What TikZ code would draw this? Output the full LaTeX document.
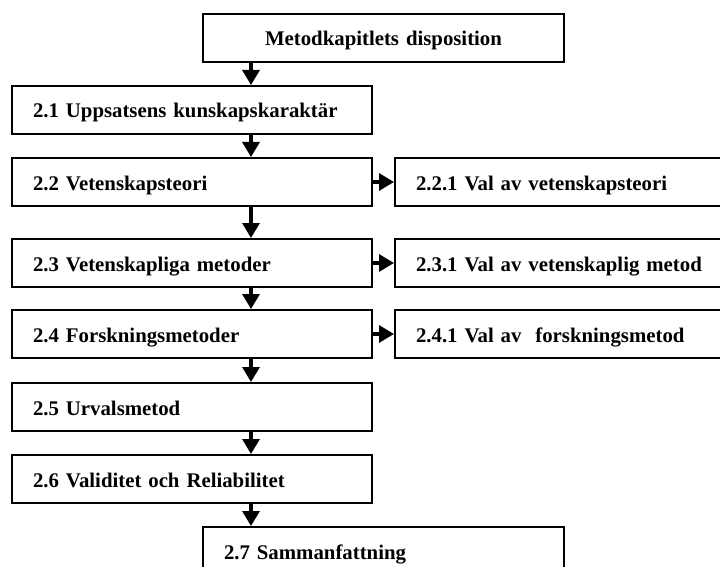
\documentclass[tikz,border=0pt]{standalone}
\usepackage{fontspec}
\setmainfont{Liberation Serif}
\usetikzlibrary{arrows.meta,positioning}
\begin{document}
\begin{tikzpicture}[x=1pt,y=-1pt,
  box/.style={draw, line width=2pt, anchor=north west, rectangle,
    minimum height=48pt, inner xsep=21pt, inner ysep=0pt,
    text height=16pt, text depth=0pt, align=left,
    font=\fontsize{20.8}{24}\selectfont\bfseries},
  leftbox/.style={box, minimum width=360pt, text width=318pt},
  sidebox/.style={box, minimum width=345pt, text width=303pt},
  flow/.style={line width=3.2pt, -{Triangle[width=17pt,length=15pt]}}]
\useasboundingbox (0,0) rectangle (720,567);
\clip (0,0) rectangle (720,567);
% main column
\node[box, minimum width=361pt, text width=319pt, align=center] (title) at (202,13) {Metodkapitlets disposition};
\node[leftbox] (s21) at (11,85)  {2.1 Uppsatsens kunskapskaraktär};
\node[leftbox] (s22) at (11,157) {2.2 Vetenskapsteori};
\node[leftbox] (s23) at (11,238) {2.3 Vetenskapliga metoder};
\node[leftbox] (s24) at (11,309) {2.4 Forskningsmetoder};
\node[leftbox] (s25) at (11,382) {2.5 Urvalsmetod};
\node[leftbox] (s26) at (11,454) {2.6 Validitet och Reliabilitet};
\node[box, minimum width=361pt, text width=319pt] (s27) at (202,526) {2.7 Sammanfattning};
% side column
\node[sidebox] (s221) at (394,157) {2.2.1 Val av vetenskapsteori};
\node[sidebox] (s231) at (394,238) {2.3.1 Val av vetenskaplig metod};
\node[sidebox] (s241) at (394,309) {2.4.1 Val av\ \ forskningsmetod};
% vertical flow line
\coordinate (spine) at (251,0);
\foreach \a/\b in {title/s21, s21/s22, s22/s23, s23/s24, s24/s25, s25/s26, s26/s27}
  \draw[flow] (\a.south -| spine) -- (\b.north -| spine);
% side arrows
\draw[flow] (s22.east) -- (s22.east -| s221.west);
\draw[flow] (s23.east) -- (s23.east -| s231.west);
\draw[flow] (s24.east) -- (s24.east -| s241.west);
\end{tikzpicture}
\end{document}
